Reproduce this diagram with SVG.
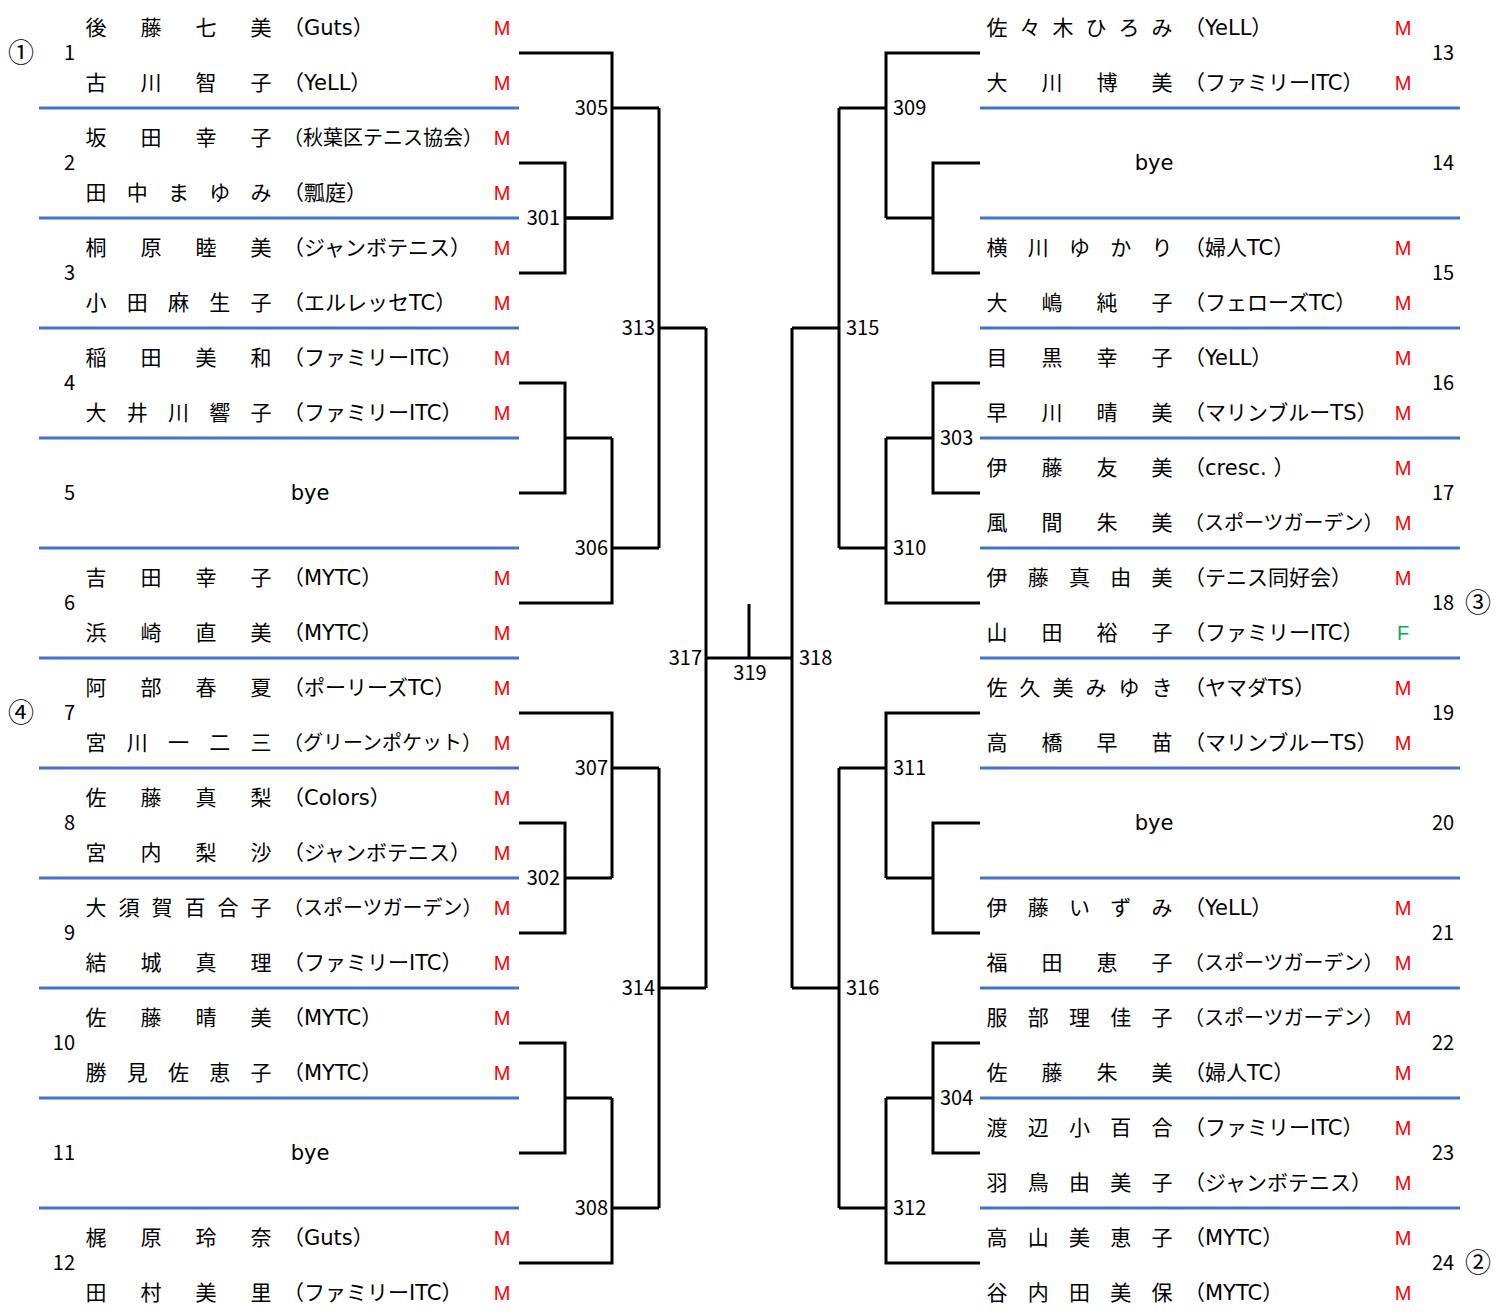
<svg xmlns="http://www.w3.org/2000/svg" width="1505" height="1316" viewBox="0 0 1505 1316">
<style>
text{font-family:"Noto Sans CJK JP","Noto Sans",sans-serif;fill:#000}
.nm{font-size:21px}
.cl{font-size:21px;font-family:"DejaVu Sans","Noto Sans CJK JP",sans-serif}
.cls{font-size:20px;font-family:"DejaVu Sans","Noto Sans CJK JP",sans-serif}
.mk{font-size:20px;fill:#FF0000;text-anchor:middle;font-family:"Liberation Sans",Arial,sans-serif}
.fk{font-size:20px;fill:#00B050;text-anchor:middle;font-family:"Liberation Sans",Arial,sans-serif}
.nol{font-size:20px;text-anchor:end}
.nor{font-size:20px}
.bye{font-size:21px;text-anchor:middle;font-family:"DejaVu Sans",sans-serif}
.lb{font-size:20px}
.lbl{font-size:20px;text-anchor:end}
.lbc{font-size:20px;text-anchor:middle}
.cir{font-size:26px;text-anchor:middle}
.sep{stroke:#4472C4;stroke-width:3;fill:none}
.con{stroke:#000;stroke-width:3;fill:none;stroke-linejoin:miter}
</style>
<rect width="1505" height="1316" fill="#fff"/>
<g id="separators">
<path class="sep" d="M39,108H519M39,218H519M39,328H519M39,438H519M39,548H519M39,658H519M39,768H519M39,878H519M39,988H519M39,1098H519M39,1208H519"/>
<path class="sep" d="M980,108H1460M980,218H1460M980,328H1460M980,438H1460M980,548H1460M980,658H1460M980,768H1460M980,878H1460M980,988H1460M980,1098H1460M980,1208H1460"/>
</g>
<g id="connectors">
<path class="con" d="M519,53H612V218H565M612,108H659"/>
<path class="con" d="M519,163H565V273H519M565,218H612"/>
<path class="con" d="M519,383H565V493H519M565,438H612"/>
<path class="con" d="M519,603H612V438M612,548H659"/>
<path class="con" d="M659,108V548M659,328H706"/>
<path class="con" d="M519,713H612V878M612,768H659"/>
<path class="con" d="M519,823H565V933H519M565,878H612"/>
<path class="con" d="M519,1043H565V1153H519M565,1098H612"/>
<path class="con" d="M519,1263H612V1098M612,1208H659"/>
<path class="con" d="M659,768V1208M659,988H706"/>
<path class="con" d="M706,328V988"/>
<path class="con" d="M706,658H792M749,604V658"/>
<path class="con" d="M792,328V988"/>
<path class="con" d="M839,108V548M839,328H792"/>
<path class="con" d="M980,53H886V218M886,108H839"/>
<path class="con" d="M980,163H933V273H980M933,218H886"/>
<path class="con" d="M980,383H933V493H980M933,438H886"/>
<path class="con" d="M980,603H886V438M886,548H839"/>
<path class="con" d="M839,768V1208M839,988H792"/>
<path class="con" d="M980,713H886V878M886,768H839"/>
<path class="con" d="M980,823H933V933H980M933,878H886"/>
<path class="con" d="M980,1043H933V1153H980M933,1098H886"/>
<path class="con" d="M980,1263H886V1098M886,1208H839"/>
</g>
<g id="match-labels">
<text class="lbl" x="608" y="115">305</text>
<text class="lbl" x="560" y="225">301</text>
<text class="lbl" x="655" y="335">313</text>
<text class="lbl" x="608" y="555">306</text>
<text class="lbl" x="702" y="665">317</text>
<text class="lbc" x="750" y="680">319</text>
<text class="lbl" x="608" y="775">307</text>
<text class="lbl" x="560" y="885">302</text>
<text class="lbl" x="655" y="995">314</text>
<text class="lbl" x="608" y="1215">308</text>
<text class="lb" x="893" y="115">309</text>
<text class="lb" x="846" y="335">315</text>
<text class="lb" x="940" y="445">303</text>
<text class="lb" x="893" y="555">310</text>
<text class="lb" x="799" y="665">318</text>
<text class="lb" x="893" y="775">311</text>
<text class="lb" x="846" y="995">316</text>
<text class="lb" x="940" y="1105">304</text>
<text class="lb" x="893" y="1215">312</text>
</g>
<g id="seeds">
<text class="cir" x="21" y="62">①</text>
<text class="cir" x="21" y="722">④</text>
<text class="cir" x="1478" y="612">③</text>
<text class="cir" x="1478" y="1272">②</text>
</g>
<g id="slot1">
<text class="nm" x="85.5 140.5 195.5 250.5" y="35">後藤七美</text><text class="cl" x="283" y="35">（Guts）</text><text class="mk" x="502" y="35">M</text>
<text class="nm" x="85.5 140.5 195.5 250.5" y="90">古川智子</text><text class="cl" x="283" y="90">（YeLL）</text><text class="mk" x="502" y="90">M</text>
<text class="nol" x="75" y="60">1</text>
</g>
<g id="slot2">
<text class="nm" x="85.5 140.5 195.5 250.5" y="145">坂田幸子</text><text class="cls" x="283" y="145">（秋葉区テニス協会）</text><text class="mk" x="502" y="145">M</text>
<text class="nm" x="85.5 126.75 168 209.25 250.5" y="200">田中まゆみ</text><text class="cl" x="283" y="200">（瓢庭）</text><text class="mk" x="502" y="200">M</text>
<text class="nol" x="75" y="170">2</text>
</g>
<g id="slot3">
<text class="nm" x="85.5 140.5 195.5 250.5" y="255">桐原睦美</text><text class="cl" x="283" y="255">（ジャンボテニス）</text><text class="mk" x="502" y="255">M</text>
<text class="nm" x="85.5 126.75 168 209.25 250.5" y="310">小田麻生子</text><text class="cl" x="283" y="310">（エルレッセTC）</text><text class="mk" x="502" y="310">M</text>
<text class="nol" x="75" y="280">3</text>
</g>
<g id="slot4">
<text class="nm" x="85.5 140.5 195.5 250.5" y="365">稲田美和</text><text class="cl" x="283" y="365">（ファミリーITC）</text><text class="mk" x="502" y="365">M</text>
<text class="nm" x="85.5 126.75 168 209.25 250.5" y="420">大井川響子</text><text class="cl" x="283" y="420">（ファミリーITC）</text><text class="mk" x="502" y="420">M</text>
<text class="nol" x="75" y="390">4</text>
</g>
<g id="slot5">
<text class="bye" x="310" y="500">bye</text>
<text class="nol" x="75" y="500">5</text>
</g>
<g id="slot6">
<text class="nm" x="85.5 140.5 195.5 250.5" y="585">吉田幸子</text><text class="cl" x="283" y="585">（MYTC）</text><text class="mk" x="502" y="585">M</text>
<text class="nm" x="85.5 140.5 195.5 250.5" y="640">浜崎直美</text><text class="cl" x="283" y="640">（MYTC）</text><text class="mk" x="502" y="640">M</text>
<text class="nol" x="75" y="610">6</text>
</g>
<g id="slot7">
<text class="nm" x="85.5 140.5 195.5 250.5" y="695">阿部春夏</text><text class="cl" x="283" y="695">（ポーリーズTC）</text><text class="mk" x="502" y="695">M</text>
<text class="nm" x="85.5 126.75 168 209.25 250.5" y="750">宮川一二三</text><text class="cls" x="283" y="750">（グリーンポケット）</text><text class="mk" x="502" y="750">M</text>
<text class="nol" x="75" y="720">7</text>
</g>
<g id="slot8">
<text class="nm" x="85.5 140.5 195.5 250.5" y="805">佐藤真梨</text><text class="cl" x="283" y="805">（Colors）</text><text class="mk" x="502" y="805">M</text>
<text class="nm" x="85.5 140.5 195.5 250.5" y="860">宮内梨沙</text><text class="cl" x="283" y="860">（ジャンボテニス）</text><text class="mk" x="502" y="860">M</text>
<text class="nol" x="75" y="830">8</text>
</g>
<g id="slot9">
<text class="nm" x="85.5 118.5 151.5 184.5 217.5 250.5" y="915">大須賀百合子</text><text class="cls" x="283" y="915">（スポーツガーデン）</text><text class="mk" x="502" y="915">M</text>
<text class="nm" x="85.5 140.5 195.5 250.5" y="970">結城真理</text><text class="cl" x="283" y="970">（ファミリーITC）</text><text class="mk" x="502" y="970">M</text>
<text class="nol" x="75" y="940">9</text>
</g>
<g id="slot10">
<text class="nm" x="85.5 140.5 195.5 250.5" y="1025">佐藤晴美</text><text class="cl" x="283" y="1025">（MYTC）</text><text class="mk" x="502" y="1025">M</text>
<text class="nm" x="85.5 126.75 168 209.25 250.5" y="1080">勝見佐恵子</text><text class="cl" x="283" y="1080">（MYTC）</text><text class="mk" x="502" y="1080">M</text>
<text class="nol" x="75" y="1050">10</text>
</g>
<g id="slot11">
<text class="bye" x="310" y="1160">bye</text>
<text class="nol" x="75" y="1160">11</text>
</g>
<g id="slot12">
<text class="nm" x="85.5 140.5 195.5 250.5" y="1245">梶原玲奈</text><text class="cl" x="283" y="1245">（Guts）</text><text class="mk" x="502" y="1245">M</text>
<text class="nm" x="85.5 140.5 195.5 250.5" y="1300">田村美里</text><text class="cl" x="283" y="1300">（ファミリーITC）</text><text class="mk" x="502" y="1300">M</text>
<text class="nol" x="75" y="1270">12</text>
</g>
<g id="slot13">
<text class="nm" x="986.5 1019.5 1052.5 1085.5 1118.5 1151.5" y="35">佐々木ひろみ</text><text class="cl" x="1184" y="35">（YeLL）</text><text class="mk" x="1403" y="35">M</text>
<text class="nm" x="986.5 1041.5 1096.5 1151.5" y="90">大川博美</text><text class="cl" x="1184" y="90">（ファミリーITC）</text><text class="mk" x="1403" y="90">M</text>
<text class="nor" x="1432" y="60">13</text>
</g>
<g id="slot14">
<text class="bye" x="1154" y="170">bye</text>
<text class="nor" x="1432" y="170">14</text>
</g>
<g id="slot15">
<text class="nm" x="986.5 1027.75 1069 1110.25 1151.5" y="255">横川ゆかり</text><text class="cl" x="1184" y="255">（婦人TC）</text><text class="mk" x="1403" y="255">M</text>
<text class="nm" x="986.5 1041.5 1096.5 1151.5" y="310">大嶋純子</text><text class="cl" x="1184" y="310">（フェローズTC）</text><text class="mk" x="1403" y="310">M</text>
<text class="nor" x="1432" y="280">15</text>
</g>
<g id="slot16">
<text class="nm" x="986.5 1041.5 1096.5 1151.5" y="365">目黒幸子</text><text class="cl" x="1184" y="365">（YeLL）</text><text class="mk" x="1403" y="365">M</text>
<text class="nm" x="986.5 1041.5 1096.5 1151.5" y="420">早川晴美</text><text class="cl" x="1184" y="420">（マリンブルーTS）</text><text class="mk" x="1403" y="420">M</text>
<text class="nor" x="1432" y="390">16</text>
</g>
<g id="slot17">
<text class="nm" x="986.5 1041.5 1096.5 1151.5" y="475">伊藤友美</text><text class="cl" x="1184" y="475">（cresc. ）</text><text class="mk" x="1403" y="475">M</text>
<text class="nm" x="986.5 1041.5 1096.5 1151.5" y="530">風間朱美</text><text class="cls" x="1184" y="530">（スポーツガーデン）</text><text class="mk" x="1403" y="530">M</text>
<text class="nor" x="1432" y="500">17</text>
</g>
<g id="slot18">
<text class="nm" x="986.5 1027.75 1069 1110.25 1151.5" y="585">伊藤真由美</text><text class="cl" x="1184" y="585">（テニス同好会）</text><text class="mk" x="1403" y="585">M</text>
<text class="nm" x="986.5 1041.5 1096.5 1151.5" y="640">山田裕子</text><text class="cl" x="1184" y="640">（ファミリーITC）</text><text class="fk" x="1403" y="640">F</text>
<text class="nor" x="1432" y="610">18</text>
</g>
<g id="slot19">
<text class="nm" x="986.5 1019.5 1052.5 1085.5 1118.5 1151.5" y="695">佐久美みゆき</text><text class="cl" x="1184" y="695">（ヤマダTS）</text><text class="mk" x="1403" y="695">M</text>
<text class="nm" x="986.5 1041.5 1096.5 1151.5" y="750">高橋早苗</text><text class="cl" x="1184" y="750">（マリンブルーTS）</text><text class="mk" x="1403" y="750">M</text>
<text class="nor" x="1432" y="720">19</text>
</g>
<g id="slot20">
<text class="bye" x="1154" y="830">bye</text>
<text class="nor" x="1432" y="830">20</text>
</g>
<g id="slot21">
<text class="nm" x="986.5 1027.75 1069 1110.25 1151.5" y="915">伊藤いずみ</text><text class="cl" x="1184" y="915">（YeLL）</text><text class="mk" x="1403" y="915">M</text>
<text class="nm" x="986.5 1041.5 1096.5 1151.5" y="970">福田恵子</text><text class="cls" x="1184" y="970">（スポーツガーデン）</text><text class="mk" x="1403" y="970">M</text>
<text class="nor" x="1432" y="940">21</text>
</g>
<g id="slot22">
<text class="nm" x="986.5 1027.75 1069 1110.25 1151.5" y="1025">服部理佳子</text><text class="cls" x="1184" y="1025">（スポーツガーデン）</text><text class="mk" x="1403" y="1025">M</text>
<text class="nm" x="986.5 1041.5 1096.5 1151.5" y="1080">佐藤朱美</text><text class="cl" x="1184" y="1080">（婦人TC）</text><text class="mk" x="1403" y="1080">M</text>
<text class="nor" x="1432" y="1050">22</text>
</g>
<g id="slot23">
<text class="nm" x="986.5 1027.75 1069 1110.25 1151.5" y="1135">渡辺小百合</text><text class="cl" x="1184" y="1135">（ファミリーITC）</text><text class="mk" x="1403" y="1135">M</text>
<text class="nm" x="986.5 1027.75 1069 1110.25 1151.5" y="1190">羽鳥由美子</text><text class="cl" x="1184" y="1190">（ジャンボテニス）</text><text class="mk" x="1403" y="1190">M</text>
<text class="nor" x="1432" y="1160">23</text>
</g>
<g id="slot24">
<text class="nm" x="986.5 1027.75 1069 1110.25 1151.5" y="1245">高山美恵子</text><text class="cl" x="1184" y="1245">（MYTC）</text><text class="mk" x="1403" y="1245">M</text>
<text class="nm" x="986.5 1027.75 1069 1110.25 1151.5" y="1300">谷内田美保</text><text class="cl" x="1184" y="1300">（MYTC）</text><text class="mk" x="1403" y="1300">M</text>
<text class="nor" x="1432" y="1270">24</text>
</g>
</svg>
